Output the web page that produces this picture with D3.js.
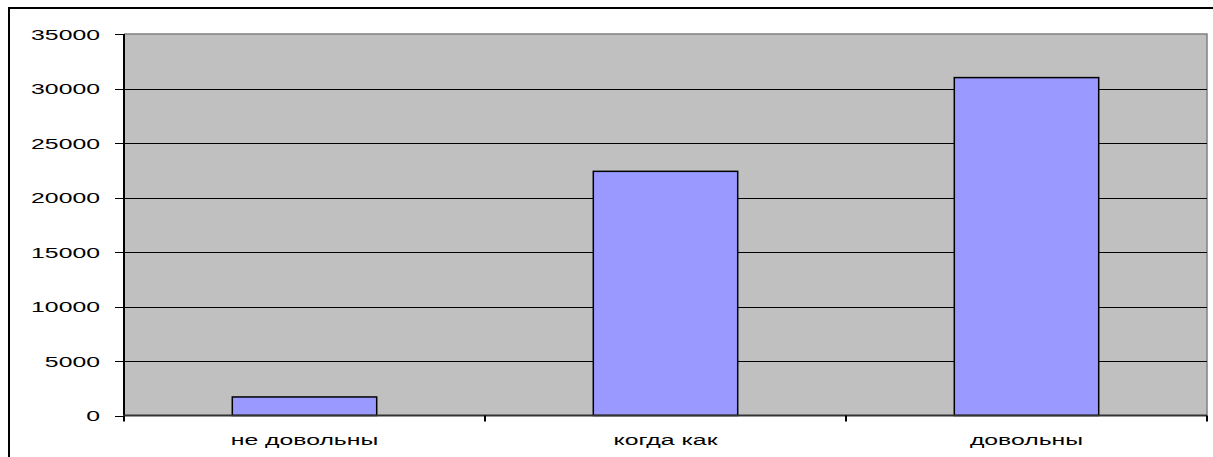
<!DOCTYPE html>
<html>
<head>
<meta charset="utf-8">
<script src="https://cdn.jsdelivr.net/npm/d3@7"></script>
<style>
  html, body { margin: 0; padding: 0; background: #fff; }
  svg { display: block; }
  text { font-family: "Liberation Sans", Arial, sans-serif; fill: #000; }
</style>
</head>
<body>
<svg id="chart" width="1213" height="457"></svg>
<script>
// Survey answers and counts
const categories = ["не довольны", "когда как", "довольны"];
const values = [1700, 22400, 31000];
const yTicks = [0, 5000, 10000, 15000, 20000, 25000, 30000, 35000];

const W = 1213, H = 457;
const plot = { left: 124, right: 1207, top: 34, bottom: 415.5 };
const stretch = 1.61; // horizontal stretch of the label glyphs

const svg = d3.select("#chart");

// outer frame
svg.append("rect")
  .attr("x", 9).attr("y", 8)
  .attr("width", W).attr("height", H)
  .attr("fill", "none").attr("stroke", "#000").attr("stroke-width", 2);

const x = d3.scaleBand().domain(categories).range([plot.left, plot.right]).paddingInner(0).paddingOuter(0);
const y = d3.scaleLinear().domain([0, 35000]).range([plot.bottom, plot.top]);

// plot background
svg.append("rect")
  .attr("x", plot.left).attr("y", plot.top)
  .attr("width", plot.right - plot.left).attr("height", plot.bottom - plot.top)
  .attr("fill", "#c0c0c0");

// plot border (top and right)
svg.append("path")
  .attr("d", `M${plot.left},${plot.top}H${plot.right}V${plot.bottom}`)
  .attr("fill", "none").attr("stroke", "#808080").attr("stroke-width", 1.5);

// horizontal gridlines
svg.append("g").selectAll("line")
  .data(yTicks.filter(t => t > 0 && t < 35000))
  .join("line")
  .attr("x1", plot.left).attr("x2", plot.right)
  .attr("y1", d => Math.round(y(d)) + 0.5).attr("y2", d => Math.round(y(d)) + 0.5)
  .attr("stroke", "#000").attr("stroke-width", 1);

// bars
const barW = x.bandwidth() / 2.5;
svg.append("g").selectAll("rect")
  .data(values)
  .join("rect")
  .attr("x", (d, i) => x(categories[i]) + (x.bandwidth() - barW) / 2)
  .attr("y", d => y(d))
  .attr("width", barW)
  .attr("height", d => plot.bottom - y(d))
  .attr("fill", "#9999ff")
  .attr("stroke", "#000").attr("stroke-width", 1.5);

// y axis
const yAxis = svg.append("g");
yAxis.append("line")
  .attr("x1", plot.left).attr("x2", plot.left)
  .attr("y1", plot.top).attr("y2", plot.bottom)
  .attr("stroke", "#000").attr("stroke-width", 2);
yAxis.selectAll("line.tick")
  .data(yTicks)
  .join("line").attr("class", "tick")
  .attr("x1", plot.left - 9).attr("x2", plot.left)
  .attr("y1", d => Math.round(y(d)) + 0.5).attr("y2", d => Math.round(y(d)) + 0.5)
  .attr("stroke", "#000").attr("stroke-width", 1);
yAxis.selectAll("text")
  .data(yTicks)
  .join("text")
  .attr("transform", d => `translate(100,${y(d) + 5.5}) scale(${stretch},1)`)
  .attr("text-anchor", "end")
  .attr("font-size", 15.4)
  .text(d => d);

// x axis
const xAxis = svg.append("g");
xAxis.append("line")
  .attr("x1", plot.left).attr("x2", plot.right)
  .attr("y1", plot.bottom).attr("y2", plot.bottom)
  .attr("stroke", "#333").attr("stroke-width", 2);
const bounds = categories.map(c => x(c)).concat([plot.right]);
xAxis.selectAll("line.tick")
  .data(bounds)
  .join("line").attr("class", "tick")
  .attr("x1", d => d).attr("x2", d => d)
  .attr("y1", plot.bottom).attr("y2", plot.bottom + 6)
  .attr("stroke", "#000").attr("stroke-width", 2);
xAxis.selectAll("text")
  .data(categories)
  .join("text")
  .attr("transform", d => `translate(${x(d) + x.bandwidth() / 2},445) scale(${stretch},1)`)
  .attr("text-anchor", "middle")
  .attr("font-size", 15.4)
  .text(d => d);
</script>
</body>
</html>
